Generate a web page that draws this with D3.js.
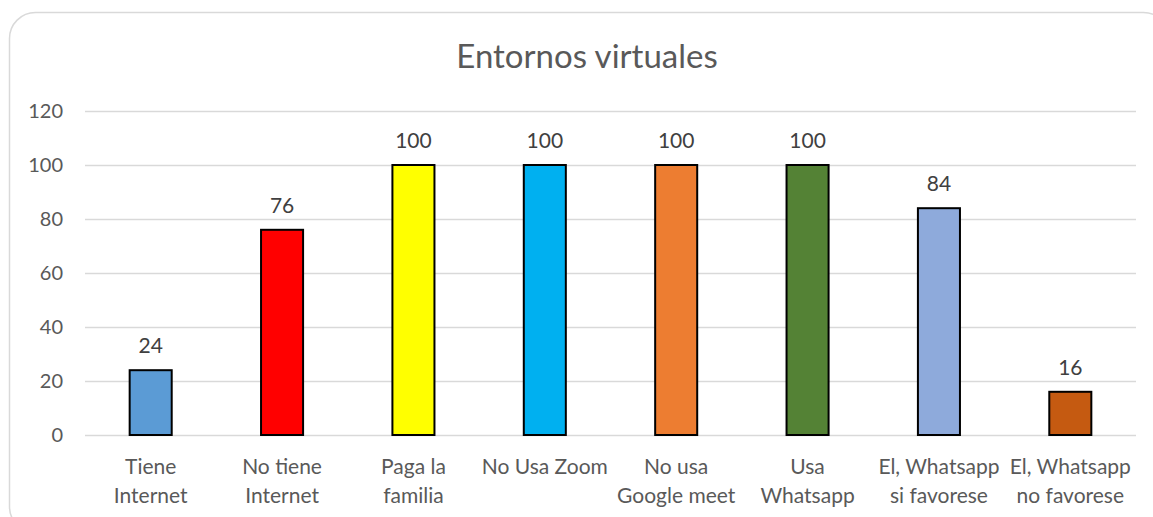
<!DOCTYPE html>
<html>
<head>
<meta charset="utf-8">
<script src="https://cdn.jsdelivr.net/npm/d3@7"></script>
<style>
  body { margin: 0; background: #fff; }
  svg { display: block; font-family: Lato, "Open Sans", sans-serif; }
</style>
</head>
<body>
<div id="chart"></div>
<script>
const categories = [
  ["Tiene", "Internet"],
  ["No tiene", "Internet"],
  ["Paga la", "familia"],
  ["No Usa Zoom"],
  ["No usa", "Google meet"],
  ["Usa", "Whatsapp"],
  ["El, Whatsapp", "si favorese"],
  ["El, Whatsapp", "no favorese"]
];
const values = [24, 76, 100, 100, 100, 100, 84, 16];
const barColors = ["#5b9bd5", "#ff0000", "#ffff00", "#00b0f0", "#ed7d31", "#548235", "#8eaadb", "#c55a11"];
const yTicks = [0, 20, 40, 60, 80, 100, 120];

const width = 1153, height = 517;
const margin = { left: 85, right: 17, top: 111, bottom: 82 };

const svg = d3.select("#chart").append("svg")
    .attr("width", width)
    .attr("height", height);

// chart frame
svg.append("rect")
    .attr("x", 9.5).attr("y", 12.5)
    .attr("width", 1160).attr("height", 520)
    .attr("rx", 26).attr("ry", 26)
    .attr("fill", "#fff")
    .attr("stroke", "#d9d9d9")
    .attr("stroke-width", 1.5);

svg.append("text")
    .attr("x", 587).attr("y", 68)
    .attr("text-anchor", "middle")
    .attr("fill", "#595959")
    .style("font-size", "33px")
    .text("Entornos virtuales");

const x = d3.scaleBand()
    .domain(d3.range(values.length))
    .range([margin.left, width - margin.right])
    .paddingInner(0.68)
    .paddingOuter(0.34);

const y = d3.scaleLinear()
    .domain([0, 120])
    .range([height - margin.bottom, margin.top]);

// gridlines + y labels
const yAxis = svg.append("g")
    .attr("transform", `translate(${margin.left},0)`)
    .call(d3.axisLeft(y).tickValues(yTicks).tickSize(-(width - margin.right - margin.left)).tickPadding(22));
yAxis.select(".domain").remove();
yAxis.selectAll(".tick line").attr("stroke", "#d9d9d9").attr("stroke-width", 1.3);
yAxis.selectAll(".tick text")
    .attr("fill", "#595959")
    .style("font-size", "20px")
    .style("font-family", "Lato, 'Open Sans', sans-serif");

// bars
svg.append("g")
    .selectAll("rect")
    .data(values)
    .join("rect")
    .attr("x", (d, i) => x(i))
    .attr("y", d => y(d))
    .attr("width", x.bandwidth())
    .attr("height", d => y(0) - y(d))
    .attr("fill", (d, i) => barColors[i])
    .attr("stroke", "#000")
    .attr("stroke-width", 2);

// value labels
svg.append("g")
    .selectAll("text")
    .data(values)
    .join("text")
    .attr("x", (d, i) => x(i) + x.bandwidth() / 2)
    .attr("y", d => y(d) - 17)
    .attr("text-anchor", "middle")
    .attr("fill", "#404040")
    .style("font-size", "21px")
    .text(d => d);

// category labels
const cat = svg.append("g")
    .selectAll("text")
    .data(categories)
    .join("text")
    .attr("x", (d, i) => x(i) + x.bandwidth() / 2)
    .attr("y", 474)
    .attr("text-anchor", "middle")
    .attr("fill", "#595959")
    .style("font-size", "21px");
cat.selectAll("tspan")
    .data(d => d)
    .join("tspan")
    .attr("x", function () { return this.parentNode.getAttribute("x"); })
    .attr("dy", (d, i) => i === 0 ? 0 : 29)
    .text(d => d);
</script>
</body>
</html>
